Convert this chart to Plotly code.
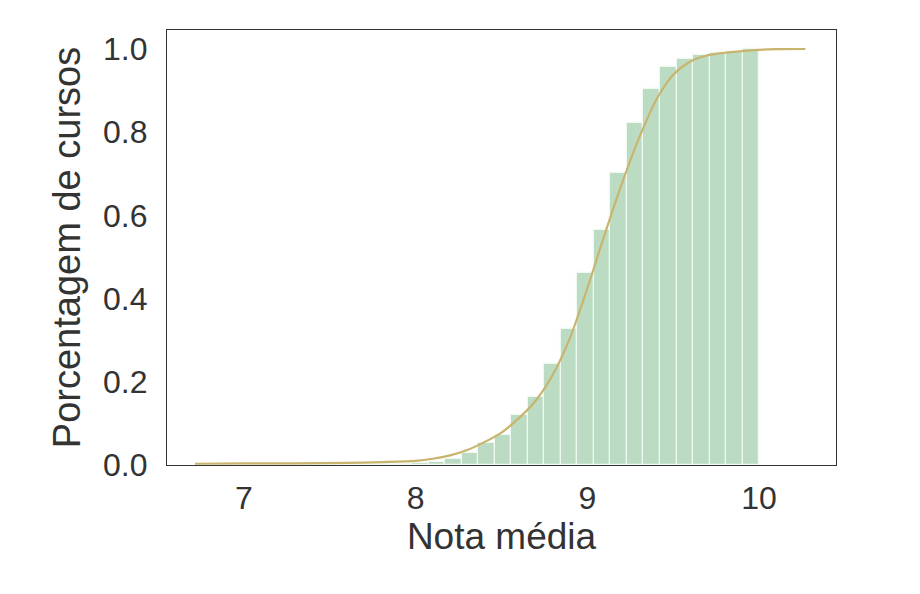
import numpy as np
import plotly.graph_objects as go

# --- data ---
bin_start = 6.73
bin_end = 10.0
n_bins = 34
cum_heights = [0.001, 0.001, 0.001, 0.001, 0.001, 0.001, 0.001, 0.002, 0.002, 0.002,
               0.002, 0.003, 0.003, 0.005, 0.008, 0.014, 0.030, 0.054, 0.073, 0.120,
               0.163, 0.244, 0.326, 0.462, 0.566, 0.701, 0.821, 0.903, 0.957, 0.975,
               0.986, 0.990, 0.993, 1.000]

kde_x = [6.715, 7.0, 7.3, 7.6, 7.8, 8.0, 8.1, 8.2, 8.3, 8.4, 8.5, 8.6, 8.7, 8.8,
         8.9, 9.0, 9.1, 9.2, 9.3, 9.4, 9.5, 9.6, 9.7, 9.8, 9.9, 10.0, 10.1, 10.27]
kde_y = [0.003, 0.004, 0.004, 0.005, 0.007, 0.010, 0.015, 0.023, 0.036, 0.055, 0.078,
         0.112, 0.155, 0.218, 0.307, 0.425, 0.553, 0.675, 0.785, 0.877, 0.938, 0.970,
         0.985, 0.991, 0.995, 0.998, 0.9995, 1.0]

x_ticks = [7, 8, 9, 10]
y_ticks = [0.0, 0.2, 0.4, 0.6, 0.8, 1.0]
x_title = "Nota média"
y_title = "Porcentagem de cursos"

edges = np.linspace(bin_start, bin_end, n_bins + 1)
centers = (edges[:-1] + edges[1:]) / 2
widths = np.diff(edges)

font_family = "Liberation Sans, Arial, sans-serif"
text_color = "#333333"

fig = go.Figure()
fig.add_trace(go.Bar(
    x=centers, y=cum_heights, width=widths,
    marker=dict(color="rgb(187,220,195)",
                line=dict(color="rgba(240,248,242,1)", width=1.2)),
    hoverinfo="skip", showlegend=False,
))
fig.add_trace(go.Scatter(
    x=kde_x, y=kde_y, mode="lines",
    line=dict(color="#C9B46E", width=2.2, shape="spline", smoothing=0.8),
    showlegend=False,
))

fig.update_layout(
    width=904, height=578,
    margin=dict(l=159, r=76, t=22, b=121),
    paper_bgcolor="white", plot_bgcolor="white",
    bargap=0,
    font=dict(family=font_family, color=text_color, size=32),
)
fig.update_xaxes(
    range=[6.552, 10.448], tickvals=x_ticks, ticktext=[str(v) for v in x_ticks],
    showgrid=False, zeroline=False, showline=True, mirror=True,
    linecolor="#333333", linewidth=1.3, ticks="",
    ticklabelstandoff=4, automargin=False,
    tickfont=dict(size=32, family=font_family, color=text_color),
    title=dict(text=x_title, font=dict(size=37, family=font_family, color=text_color),
               standoff=7),
)
fig.update_yaxes(
    range=[0, 1.0457], tickvals=y_ticks, ticktext=[f"{v:.1f}" for v in y_ticks],
    showgrid=False, zeroline=False, showline=True, mirror=True,
    linecolor="#333333", linewidth=1.3, ticks="",
    ticklabelstandoff=12, automargin=False,
    tickfont=dict(size=32, family=font_family, color=text_color),
    title=dict(text=y_title, font=dict(size=38, family=font_family, color=text_color),
               standoff=10),
)

fig.write_html("out.html")
